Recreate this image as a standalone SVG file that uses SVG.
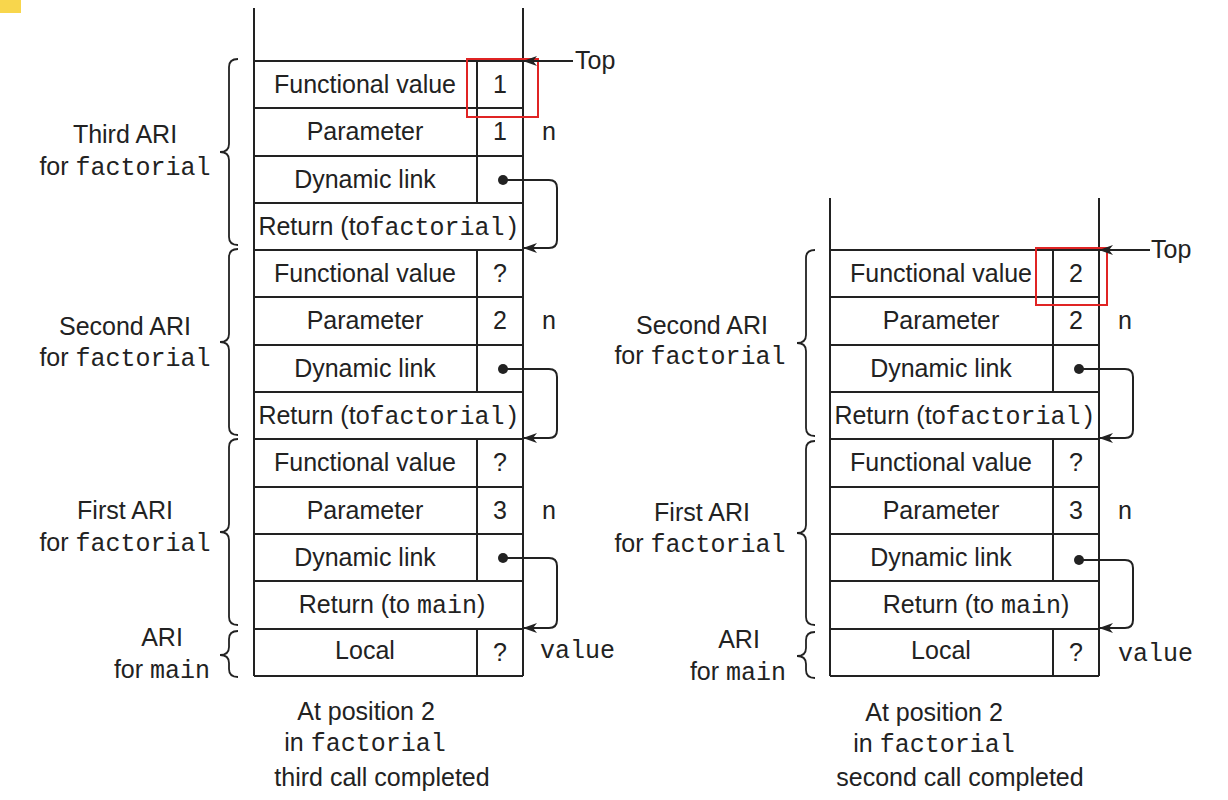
<svg xmlns="http://www.w3.org/2000/svg" width="1228" height="800" viewBox="0 0 1228 800">
<style>
.ln{stroke:#222;stroke-width:2;fill:none}
.s{font-family:"Liberation Sans",Arial,sans-serif;font-size:25px;fill:#222}
.m{font-family:"Liberation Mono","Courier New",monospace;font-size:25px;fill:#222}
.c{text-anchor:middle}
.red{stroke:#E02424;stroke-width:2;fill:none}
.br{stroke:#222;stroke-width:1.8;fill:none}
</style>
<defs>
<marker id="ah" markerWidth="14" markerHeight="10" refX="13" refY="5" orient="auto" markerUnits="userSpaceOnUse">
<path d="M0,0 L14,5 L0,10 L4,5 z" fill="#222"/>
</marker>
</defs>
<rect x="0" y="0" width="21" height="13" fill="#F8D64C"/>

<!-- Left stack -->
<g id="stack-left">
<path class="ln" d="M254,8 V676 M523,8 V676"/>
<path class="ln" d="M254,61 H523 M254,108 H523 M254,156 H523 M254,203 H523 M254,250 H523 M254,297 H523 M254,345 H523 M254,392 H523 M254,439 H523 M254,487 H523 M254,534 H523 M254,581 H523 M254,629 H523 M254,676 H523"/>
<path class="ln" d="M477,61 V203 M477,250 V392 M477,439 V581 M477,629 V676"/>
</g>
<g id="L-third-fv"><text class="s c" x="365" y="93">Functional value</text><text class="s c" x="500" y="93">1</text></g>
<g id="L-third-param"><text class="s c" x="365" y="140">Parameter</text><text class="s c" x="500" y="140">1</text><text class="m c" x="549" y="140">n</text></g>
<g id="L-third-dl"><text class="s c" x="365" y="188">Dynamic link</text></g>
<g id="L-third-ret"><text class="s c" x="389" y="235">Return (to<tspan class="m">factorial)</tspan></text></g>
<g id="L-second-fv"><text class="s c" x="365" y="282">Functional value</text><text class="s c" x="500" y="282">?</text></g>
<g id="L-second-param"><text class="s c" x="365" y="329">Parameter</text><text class="s c" x="500" y="329">2</text><text class="m c" x="549" y="329">n</text></g>
<g id="L-second-dl"><text class="s c" x="365" y="377">Dynamic link</text></g>
<g id="L-second-ret"><text class="s c" x="389" y="424">Return (to<tspan class="m">factorial)</tspan></text></g>
<g id="L-first-fv"><text class="s c" x="365" y="471">Functional value</text><text class="s c" x="500" y="471">?</text></g>
<g id="L-first-param"><text class="s c" x="365" y="519">Parameter</text><text class="s c" x="500" y="519">3</text><text class="m c" x="549" y="519">n</text></g>
<g id="L-first-dl"><text class="s c" x="365" y="566">Dynamic link</text></g>
<g id="L-first-ret"><text class="s c" x="392" y="613">Return (to <tspan class="m">main</tspan>)</text></g>
<g id="L-main-local"><text class="s c" x="365" y="659">Local</text><text class="s c" x="500" y="661">?</text><text class="m" x="540" y="658">value</text></g>
<g id="L-top"><rect class="red" x="467" y="59" width="71" height="58"/><text class="s" x="575" y="69">Top</text></g>

<g id="L-labels">
<path class="br" d="M238,59 Q229,59 229,67 V144 Q229,152 220,152 Q229,152 229,160 V237 Q229,245 238,245"/>
<path class="br" d="M238,249 Q229,249 229,257 V334 Q229,342 220,342 Q229,342 229,350 V427 Q229,435 238,435"/>
<path class="br" d="M238,439 Q229,439 229,447 V524 Q229,532 220,532 Q229,532 229,540 V617 Q229,625 238,625"/>
<path class="br" d="M238,631 Q229,631 229,639 V647 Q229,655 220,655 Q229,655 229,663 V669 Q229,677 238,677"/>
<text class="s c" x="125" y="143">Third ARI</text>
<text class="s c" x="125" y="175">for <tspan class="m">factorial</tspan></text>
<text class="s c" x="125" y="335">Second ARI</text>
<text class="s c" x="125" y="366">for <tspan class="m">factorial</tspan></text>
<text class="s c" x="125" y="519">First ARI</text>
<text class="s c" x="125" y="551">for <tspan class="m">factorial</tspan></text>
<text class="s c" x="162" y="646">ARI</text>
<text class="s c" x="162" y="678">for <tspan class="m">main</tspan></text>
<text class="s c" x="366" y="720">At position 2</text>
<text class="s c" x="365" y="751">in <tspan class="m">factorial</tspan></text>
<text class="s c" x="382" y="786">third call completed</text>
</g>

<!-- Right stack -->
<g id="stack-right">
<path class="ln" d="M830,198 V676 M1099,198 V676"/>
<path class="ln" d="M830,250 H1099 M830,297 H1099 M830,345 H1099 M830,392 H1099 M830,439 H1099 M830,487 H1099 M830,534 H1099 M830,581 H1099 M830,629 H1099 M830,676 H1099"/>
<path class="ln" d="M1053,250 V392 M1053,439 V581 M1053,629 V676"/>
</g>
<g id="R-second-fv"><text class="s c" x="941" y="282">Functional value</text><text class="s c" x="1076" y="282">2</text></g>
<g id="R-second-param"><text class="s c" x="941" y="329">Parameter</text><text class="s c" x="1076" y="329">2</text><text class="m c" x="1125" y="329">n</text></g>
<g id="R-second-dl"><text class="s c" x="941" y="377">Dynamic link</text></g>
<g id="R-second-ret"><text class="s c" x="965" y="424">Return (to<tspan class="m">factorial)</tspan></text></g>
<g id="R-first-fv"><text class="s c" x="941" y="471">Functional value</text><text class="s c" x="1076" y="471">?</text></g>
<g id="R-first-param"><text class="s c" x="941" y="519">Parameter</text><text class="s c" x="1076" y="519">3</text><text class="m c" x="1125" y="519">n</text></g>
<g id="R-first-dl"><text class="s c" x="941" y="566">Dynamic link</text></g>
<g id="R-first-ret"><text class="s c" x="976" y="613">Return (to <tspan class="m">main</tspan>)</text></g>
<g id="R-main-local"><text class="s c" x="941" y="659">Local</text><text class="s c" x="1076" y="661">?</text><text class="m" x="1118" y="661">value</text></g>
<g id="R-top"><rect class="red" x="1036" y="248" width="71" height="57"/><text class="s" x="1151" y="258">Top</text></g>

<g id="R-labels">
<path class="br" d="M815,250 Q806,250 806,258 V335 Q806,343 797,343 Q806,343 806,351 V428 Q806,436 815,436"/>
<path class="br" d="M815,441 Q806,441 806,449 V525 Q806,533 797,533 Q806,533 806,541 V617 Q806,625 815,625"/>
<path class="br" d="M815,632 Q806,632 806,640 V648 Q806,656 797,656 Q806,656 806,664 V670 Q806,678 815,678"/>
<text class="s c" x="702" y="334">Second ARI</text>
<text class="s c" x="700" y="364">for <tspan class="m">factorial</tspan></text>
<text class="s c" x="702" y="521">First ARI</text>
<text class="s c" x="700" y="552">for <tspan class="m">factorial</tspan></text>
<text class="s c" x="739" y="648">ARI</text>
<text class="s c" x="738" y="680">for <tspan class="m">main</tspan></text>
<text class="s c" x="934" y="721">At position 2</text>
<text class="s c" x="934" y="752">in <tspan class="m">factorial</tspan></text>
<text class="s c" x="960" y="786">second call completed</text>
</g>

<g id="connectors">
<path class="ln" marker-end="url(#ah)" d="M573,61 H524"/>
<path class="ln" marker-end="url(#ah)" d="M1150,250 H1100"/>
<circle cx="503" cy="180" r="5" fill="#222"/>
<path class="ln" marker-end="url(#ah)" d="M503,180 H549 Q557,180 557,188 V240 Q557,248 549,248 H524"/>
<circle cx="503" cy="369" r="5" fill="#222"/>
<path class="ln" marker-end="url(#ah)" d="M503,369 H549 Q557,369 557,377 V430 Q557,438 549,438 H524"/>
<circle cx="503" cy="558" r="5" fill="#222"/>
<path class="ln" marker-end="url(#ah)" d="M503,558 H549 Q557,558 557,566 V620 Q557,628 549,628 H524"/>
<circle cx="1079" cy="369" r="5" fill="#222"/>
<path class="ln" marker-end="url(#ah)" d="M1079,369 H1125 Q1133,369 1133,377 V430 Q1133,438 1125,438 H1100"/>
<circle cx="1079" cy="560" r="5" fill="#222"/>
<path class="ln" marker-end="url(#ah)" d="M1079,560 H1125 Q1133,560 1133,568 V620 Q1133,628 1125,628 H1100"/>
</g>
</svg>
